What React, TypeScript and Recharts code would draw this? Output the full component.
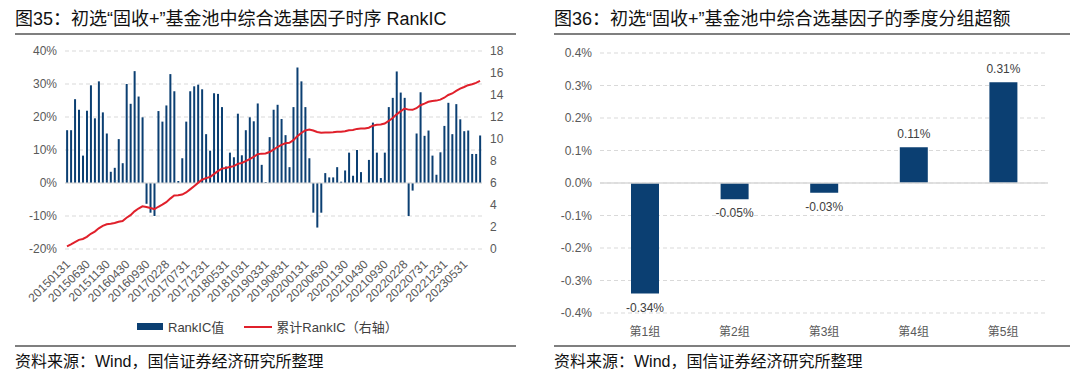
import { ComposedChart, BarChart, Bar, Line, XAxis, YAxis, CartesianGrid, ReferenceLine, LabelList } from 'recharts';

// 月末日期（2015-01 ~ 2023-09）
const dates = [
  '20150131', '20150228', '20150331', '20150430', '20150531', '20150630', '20150731', '20150831', '20150930', '20151031', '20151130', '20151231',
  '20160131', '20160229', '20160331', '20160430', '20160531', '20160630', '20160731', '20160831', '20160930', '20161031', '20161130', '20161231',
  '20170131', '20170228', '20170331', '20170430', '20170531', '20170630', '20170731', '20170831', '20170930', '20171031', '20171130', '20171231',
  '20180131', '20180228', '20180331', '20180430', '20180531', '20180630', '20180731', '20180831', '20180930', '20181031', '20181130', '20181231',
  '20190131', '20190228', '20190331', '20190430', '20190531', '20190630', '20190731', '20190831', '20190930', '20191031', '20191130', '20191231',
  '20200131', '20200229', '20200331', '20200430', '20200531', '20200630', '20200731', '20200831', '20200930', '20201031', '20201130', '20201231',
  '20210131', '20210228', '20210331', '20210430', '20210531', '20210630', '20210731', '20210831', '20210930', '20211031', '20211130', '20211231',
  '20220131', '20220228', '20220331', '20220430', '20220531', '20220630', '20220731', '20220831', '20220930', '20221031', '20221130', '20221231',
  '20230131', '20230228', '20230331', '20230430', '20230531', '20230630', '20230731', '20230831', '20230930',
];

// RankIC值（%）
const rankIC = [
  16, 16, 25.4, 22.2, 8.3, 21.9, 29.6, 19.6, 30.8, 21.4, 15, 3.4,
  4.6, 13.3, 6, 30, 24, 33.9, 26.2, 19.9, -6.3, -9, -10, 21.8,
  18.6, 23.5, 33, 27.8, 0.6, 7.5, 18.6, 27.8, 29.3, 29.8, 28.4, 14.8,
  9.8, 27.2, 27, 23, 5, 9.2, 7.8, 21, 8.4, 16, 19.9, 18.7,
  24.1, 5.5, 0.3, 13.9, 22.2, 23.7, 19.4, 14.5, 4.8, 23, 35, 30.8,
  23, 7.5, -9, -13.5, -9, 3, 1.7, 1.7, 4.8, 0.4, 3.8, 9.2,
  2.2, 10, 3.3, 0, 7, 18.3, 9.2, 1.5, 9.2, 23, 25.8, 33.8,
  27.4, 25.8, -10, -2.3, 15, 27.5, 14.3, 15.9, 8.3, 2.5, 9.3, 17.3,
  24.3, 14.8, 23.9, 19.3, 15.7, 15.9, 8.8, 8.8, 14.4,
];

// 累计RankIC（右轴）
const cumIC = [
  0.24, 0.42, 0.62, 0.83, 0.91, 1.1, 1.38, 1.58, 1.88, 2.1, 2.25, 2.3,
  2.36, 2.48, 2.55, 2.84, 3.08, 3.42, 3.68, 3.88, 3.82, 3.72, 3.63, 3.84,
  4.03, 4.26, 4.58, 4.86, 4.88, 4.95, 5.14, 5.42, 5.71, 6.01, 6.3, 6.44,
  6.54, 6.81, 7.08, 7.31, 7.36, 7.45, 7.53, 7.74, 7.82, 7.98, 8.18, 8.37,
  8.61, 8.67, 8.68, 8.82, 9.04, 9.27, 9.46, 9.61, 9.66, 9.89, 10.24, 10.55,
  10.78, 10.86, 10.77, 10.64, 10.56, 10.58, 10.6, 10.62, 10.66, 10.67, 10.71, 10.8,
  10.82, 10.92, 10.95, 10.96, 11.03, 11.21, 11.3, 11.32, 11.41, 11.64, 11.9, 12.24,
  12.51, 12.77, 12.67, 12.65, 12.8, 13.07, 13.22, 13.38, 13.46, 13.49, 13.58, 13.75,
  14.0, 14.14, 14.38, 14.58, 14.73, 14.89, 14.98, 15.1, 15.28,
];

const groups = ['第1组', '第2组', '第3组', '第4组', '第5组'];
const groupExcess = [-0.34, -0.05, -0.03, 0.11, 0.31];

const leftTicks = [-20, -10, 0, 10, 20, 30, 40];
const rightTicks = [0, 2, 4, 6, 8, 10, 12, 14, 16, 18];
const excessTicks = [-0.4, -0.3, -0.2, -0.1, 0, 0.1, 0.2, 0.3, 0.4];

const BLUE = '#0b3f72';
const RED = '#e0202b';
const GRID = '#d9d9d9';
const TICK = '#595959';
const FONT = "'Liberation Sans', Arial, 'Noto Sans CJK SC', sans-serif";

const icData = dates.map((d, i) => ({ date: d, ic: rankIC[i], cum: cumIC[i] }));
const groupData = groups.map((g, i) => ({ name: g, value: groupExcess[i] }));

const DateTick = ({ x, y, payload }: any) => (
  <text
    x={x + 4}
    y={y + 8}
    transform={`rotate(-45, ${x + 4}, ${y + 8})`}
    textAnchor="end"
    fill={TICK}
    fontSize={12}
    fontFamily={FONT}
  >
    {payload.value}
  </text>
);

const GroupTick = ({ x, y, payload }: any) => (
  <text x={x} y={y + 15} textAnchor="middle" fill={TICK} fontSize={12} fontFamily={FONT}>
    {payload.value}
  </text>
);

const GroupLabel = (props: any) => {
  const { x, y, width, height, value } = props;
  const top = Math.min(y, y + height);
  const bottom = Math.max(y, y + height);
  const ty = value < 0 ? bottom + 18 : top - 9;
  return (
    <text x={x + width / 2} y={ty} textAnchor="middle" fill="#404040" fontSize={12} fontFamily={FONT}>
      {`${value.toFixed(2)}%`}
    </text>
  );
};

const titleStyle = {
  position: 'absolute' as const,
  top: 8,
  fontSize: 18,
  color: '#111',
  whiteSpace: 'nowrap' as const,
  lineHeight: '22px',
};

const ruleStyle = {
  position: 'absolute' as const,
  height: 2,
  background: '#7f7f7f',
};

const sourceStyle = {
  position: 'absolute' as const,
  top: 352,
  fontSize: 16,
  color: '#111',
  whiteSpace: 'nowrap' as const,
  lineHeight: '20px',
};

const App = () => {
  return (
    <div style={{ position: 'absolute', left: 0, top: 0, width: 1080, height: 390, background: '#fff', fontFamily: FONT }}>
      {/* 图35 */}
      <div style={{ ...titleStyle, left: 15 }}>图35：初选“固收+”基金池中综合选基因子时序 RankIC</div>
      <div style={{ ...ruleStyle, left: 15, top: 33, width: 501 }} />

      <div style={{ position: 'absolute', left: 0, top: 0 }}>
        <ComposedChart
          width={540}
          height={330}
          data={icData}
          margin={{ top: 51, right: 23, left: 10, bottom: 21 }}
          barCategoryGap="28%"
        >
          <CartesianGrid yAxisId="left" vertical={false} stroke={GRID} strokeDasharray="4 3" />
          <XAxis
            dataKey="date"
            interval={4}
            tick={<DateTick />}
            tickLine={false}
            axisLine={false}
            height={60}
          />
          <YAxis
            yAxisId="left"
            domain={[-20, 40]}
            ticks={leftTicks}
            tickFormatter={(v: number) => `${v}%`}
            tick={{ fill: TICK, fontSize: 12, fontFamily: FONT }}
            tickLine={false}
            axisLine={false}
            width={55}
          />
          <YAxis
            yAxisId="right"
            orientation="right"
            domain={[0, 18]}
            ticks={rightTicks}
            tick={{ fill: TICK, fontSize: 12, fontFamily: FONT }}
            tickLine={false}
            axisLine={false}
            width={35}
          />
          <ReferenceLine yAxisId="left" y={0} stroke={GRID} />
          <Bar yAxisId="left" dataKey="ic" fill={BLUE} isAnimationActive={false} />
          <Line
            yAxisId="right"
            type="linear"
            dataKey="cum"
            stroke={RED}
            strokeWidth={2}
            dot={false}
            isAnimationActive={false}
          />
        </ComposedChart>
      </div>

      <div style={{ position: 'absolute', left: 137, top: 317, display: 'flex', alignItems: 'center', fontSize: 13, color: '#404040', whiteSpace: 'nowrap' }}>
        <div style={{ width: 26, height: 7, background: BLUE, marginRight: 5 }} />
        <span>RankIC值</span>
        <div style={{ width: 28, height: 2, background: RED, marginLeft: 20, marginRight: 4 }} />
        <span>累计RankIC（右轴）</span>
      </div>

      <div style={{ ...ruleStyle, left: 15, top: 345, width: 501 }} />
      <div style={{ ...sourceStyle, left: 15 }}>资料来源：Wind，国信证券经济研究所整理</div>

      {/* 图36 */}
      <div style={{ ...titleStyle, left: 554 }}>图36：初选“固收+”基金池中综合选基因子的季度分组超额</div>
      <div style={{ ...ruleStyle, left: 554, top: 33, width: 516 }} />

      <div style={{ position: 'absolute', left: 540, top: 0 }}>
        <BarChart
          width={540}
          height={345}
          data={groupData}
          margin={{ top: 53, right: 32, left: 10, bottom: 2 }}
        >
          <CartesianGrid vertical={false} stroke={GRID} strokeDasharray="4 3" />
          <XAxis
            dataKey="name"
            tick={<GroupTick />}
            tickLine={false}
            axisLine={false}
            height={30}
          />
          <YAxis
            domain={[-0.4, 0.4]}
            ticks={excessTicks}
            tickFormatter={(v: number) => `${v.toFixed(1)}%`}
            tick={{ fill: TICK, fontSize: 12, fontFamily: FONT }}
            tickLine={false}
            axisLine={false}
            width={50}
          />
          <ReferenceLine y={0} stroke={GRID} strokeWidth={1.5} />
          <Bar dataKey="value" fill={BLUE} barSize={28} isAnimationActive={false}>
            <LabelList dataKey="value" content={<GroupLabel />} />
          </Bar>
        </BarChart>
      </div>

      <div style={{ ...ruleStyle, left: 554, top: 345, width: 516 }} />
      <div style={{ ...sourceStyle, left: 554 }}>资料来源：Wind，国信证券经济研究所整理</div>
    </div>
  );
};

export default App;
